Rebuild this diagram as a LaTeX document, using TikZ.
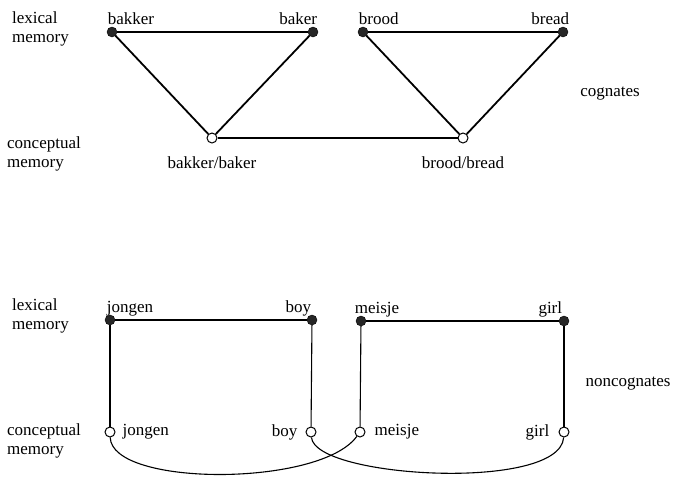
\documentclass[tikz,border=0pt]{standalone}
\usepackage{fontspec}
\setmainfont{Liberation Serif}
\usetikzlibrary{positioning}

\begin{document}
\begin{tikzpicture}[
    x=1pt, y=-1pt,
    word/.style={inner sep=0pt, font=\fontsize{17}{19}\selectfont},
    lexword/.style={word, text depth=0pt},
    side/.style={word, align=left, anchor=west},
    lex/.style={circle, draw=black, fill=black!85, minimum size=10pt, inner sep=0pt},
    con/.style={circle, draw=black, fill=white, line width=1pt, minimum size=10pt, inner sep=0pt},
    cog/.style={line width=1.8pt},
    noncog/.style={line width=1.1pt},
]
    \useasboundingbox (0,0) rectangle (675,477);

    % cognates
    \node[side] (lex1) at (12,28.6) {lexical\\memory};
    \node[side] (con1) at (7,153.5) {conceptual\\memory};
    \node[word] (cog) at (610,94) {cognates};

    \node[lex] (bakker) at (112,32) {};
    \node[lex] (baker) at (313,32) {};
    \node[lex] (brood) at (363,32) {};
    \node[lex] (bread) at (563,32) {};
    \node[con] (bakkerbaker) at (212,138) {};
    \node[con] (broodbread) at (463,138) {};

    \node[lexword, above right=4pt and -8pt of bakker] (t-bakker) {bakker};
    \node[lexword, above left=4pt and -8pt of baker] (t-baker) {baker};
    \node[lexword, above right=4pt and -8pt of brood] (t-brood) {brood};
    \node[lexword, above left=4pt and -10pt of bread] (t-bread) {bread};
    \node[word, below=13pt of bakkerbaker] (t-bakkerbaker) {bakker/baker};
    \node[word, below=13pt of broodbread] (t-broodbread) {brood/bread};

    \draw[cog] (bakker) -- (baker);
    \draw[cog] (bakker) -- (bakkerbaker);
    \draw[cog] (baker) -- (bakkerbaker);
    \draw[cog] (bakkerbaker) -- (broodbread);
    \draw[cog] (brood) -- (bread);
    \draw[cog] (brood) -- (broodbread);
    \draw[cog] (bread) -- (broodbread);

    % noncognates
    \node[side] (lex2) at (12,315.5) {lexical\\memory};
    \node[side] (con2) at (7,440.5) {conceptual\\memory};
    \node[word] (noncog) at (628,383.6) {noncognates};

    \node[lex] (jongen) at (110,320) {};
    \node[lex] (boy) at (312,320) {};
    \node[lex] (meisje) at (361,321) {};
    \node[lex] (girl) at (564,321) {};
    \node[con] (cjongen) at (110,432) {};
    \node[con] (cboy) at (311,432) {};
    \node[con] (cmeisje) at (360,432) {};
    \node[con] (cgirl) at (564,432) {};

    \node[lexword, above right=4pt and -7pt of jongen] (t-jongen) {jongen};
    \node[lexword, above left=4pt and -3pt of boy] (t-boy) {boy};
    \node[lexword, above right=4pt and -10pt of meisje] (t-meisje) {meisje};
    \node[lexword, above left=4pt and -2pt of girl] (t-girl) {girl};
    \node[word, right=7pt of cjongen] (t-cjongen) {jongen};
    \node[word, left=8pt of cboy] (t-cboy) {boy};
    \node[word, right=9pt of cmeisje] (t-cmeisje) {meisje};
    \node[word, left=9pt of cgirl] (t-cgirl) {girl};

    \draw[noncog] (jongen) -- (boy);
    \draw[noncog] (meisje) -- (girl);
    \draw[noncog] (jongen) -- (cjongen);
    \draw[noncog] (boy) -- (cboy);
    \draw[noncog] (meisje) -- (cmeisje);
    \draw[noncog] (girl) -- (cgirl);
    \draw[noncog] (cjongen) .. controls +(2,55) and +(-40,55) .. (cmeisje);
    \draw[noncog] (cboy) .. controls +(4,46) and +(-4,60) .. (cgirl);
\end{tikzpicture}
\end{document}
